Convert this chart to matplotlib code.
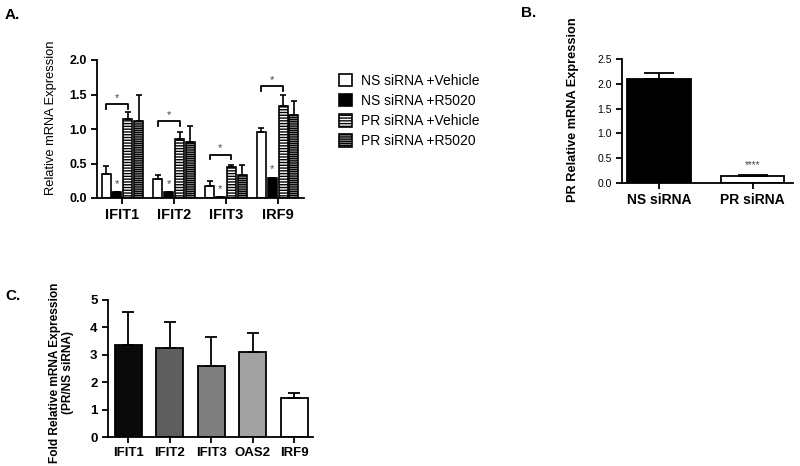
import matplotlib
matplotlib.use("Agg")
import matplotlib.pyplot as plt
import numpy as np
from matplotlib.patches import Patch

plt.rcParams['font.family'] = ['Liberation Sans', 'DejaVu Sans']
plt.rcParams['hatch.linewidth'] = 1.0

# ---------------- data ----------------
genes_a = ['IFIT1', 'IFIT2', 'IFIT3', 'IRF9']
ns_vehicle = [0.35, 0.27, 0.18, 0.95]
ns_vehicle_err = [0.12, 0.07, 0.07, 0.06]
ns_r5020 = [0.08, 0.08, 0.01, 0.29]
ns_r5020_err = [0.01, 0.005, 0.0, 0.0]
pr_vehicle = [1.15, 0.85, 0.45, 1.34]
pr_vehicle_err = [0.09, 0.11, 0.03, 0.15]
pr_r5020 = [1.11, 0.81, 0.34, 1.20]
pr_r5020_err = [0.38, 0.23, 0.14, 0.21]
bracket_y = [1.36, 1.11, 0.63, 1.62]
series_labels = ['NS siRNA +Vehicle', 'NS siRNA +R5020', 'PR siRNA +Vehicle', 'PR siRNA +R5020']

groups_b = ['NS siRNA', 'PR siRNA']
pr_expr = [2.09, 0.15]
pr_expr_err = [0.12, 0.01]

genes_c = ['IFIT1', 'IFIT2', 'IFIT3', 'OAS2', 'IRF9']
fold = [3.35, 3.24, 2.58, 3.12, 1.42]
fold_err = [1.22, 0.96, 1.06, 0.66, 0.17]
colors_c = ['#0a0a0a', '#5e5e5e', '#7f7f7f', '#a2a2a2', '#ffffff']

W, H = 800, 466
fig = plt.figure(figsize=(8, 4.66), dpi=100)

def px_axes(l, r, top, bottom):
    return fig.add_axes([l / W, (H - bottom) / H, (r - l) / W, (bottom - top) / H])

def style(ax):
    for s in ['top', 'right']:
        ax.spines[s].set_visible(False)
    for s in ['left', 'bottom']:
        ax.spines[s].set_linewidth(1.3)
    ax.tick_params(width=1.3, length=4)

# ---------------- Panel A ----------------
axA = px_axes(97, 304, 60, 198)
style(axA)
x = np.arange(len(genes_a))
w = 0.175
step = 0.21
specs = [
    (ns_vehicle, ns_vehicle_err, 'white', None),
    (ns_r5020, ns_r5020_err, 'black', None),
    (pr_vehicle, pr_vehicle_err, 'white', '------'),
    (pr_r5020, pr_r5020_err, 'white', '---------'),
]
handles = []
for i, (vals, errs, fc, hatch) in enumerate(specs):
    pos = x + (i - 1.5) * step
    axA.bar(pos, vals, w, color=fc, edgecolor='black', linewidth=1.2, hatch=hatch, zorder=2)
    axA.errorbar(pos, vals, yerr=[np.zeros(len(errs)), errs], fmt='none', ecolor='black',
                 elinewidth=1.2, capsize=2.5, capthick=1.2, zorder=3)
    handles.append(Patch(facecolor=fc, edgecolor='black', linewidth=1.2, hatch=hatch))
# stars over black bars
for xi, v in zip(x, ns_r5020):
    axA.text(xi - 0.5 * step, v + 0.05, '*', ha='center', va='bottom', fontsize=8, color='#444444')
# brackets
for xi, by in zip(x, bracket_y):
    x1 = xi - 1.5 * step
    x2 = xi + 0.5 * step
    axA.plot([x1, x1, x2, x2], [by - 0.07, by, by, by - 0.07], color='black', lw=1.3, zorder=3)
    axA.text((x1 + x2) / 2, by + 0.02, '*', ha='center', va='bottom', fontsize=8, color='#444444')
axA.set_xlim(-0.49, 3.51)
axA.set_ylim(0, 2.0)
axA.set_yticks([0, 0.5, 1.0, 1.5, 2.0])
axA.set_yticklabels(['0.0', '0.5', '1.0', '1.5', '2.0'], fontsize=9, fontweight='bold')
axA.set_xticks(x)
axA.set_xticklabels(genes_a, fontsize=10.5, fontweight='bold')
axA.set_ylabel('Relative mRNA Expression', fontsize=9.3)
axA.yaxis.set_label_coords(-0.195, 0.58)

fig.legend(handles, series_labels, loc='upper left', bbox_to_anchor=(333 / W, 1 - 68 / H),
           frameon=False, fontsize=10, handlelength=1.0, handleheight=1.0,
           handletextpad=0.6, labelspacing=0.45, borderaxespad=0)

# ---------------- Panel B ----------------
axB = px_axes(622, 793, 59, 183)
style(axB)
xb = np.arange(len(groups_b))
axB.bar(xb, pr_expr, 0.68, color=['black', 'white'], edgecolor='black', linewidth=1.3, zorder=2)
axB.errorbar(xb, pr_expr, yerr=[np.zeros(2), pr_expr_err], fmt='none', ecolor='black',
             elinewidth=1.3, capsize=11, capthick=1.3, zorder=3)
axB.text(xb[1], pr_expr[1] + 0.12, '****', ha='center', va='bottom', fontsize=7, color='#444444')
axB.set_xlim(-0.396, 1.433)
axB.set_ylim(0, 2.5)
axB.set_yticks([0, 0.5, 1.0, 1.5, 2.0, 2.5])
axB.set_yticklabels(['0.0', '0.5', '1.0', '1.5', '2.0', '2.5'], fontsize=7.5)
axB.set_xticks(xb)
axB.set_xticklabels(groups_b, fontsize=10, fontweight='bold')
axB.set_ylabel('PR Relative mRNA Expression', fontsize=9.2, fontweight='bold')
axB.yaxis.set_label_coords(-0.253, 0.59)

# ---------------- Panel C ----------------
axC = px_axes(108, 313, 300, 437)
style(axC)
xc = np.arange(len(genes_c))
axC.bar(xc, fold, 0.65, color=colors_c, edgecolor='black', linewidth=1.3, zorder=2)
axC.errorbar(xc, fold, yerr=[np.zeros(len(fold)), fold_err], fmt='none', ecolor='black',
             elinewidth=1.3, capsize=4, capthick=1.3, zorder=3)
axC.set_xlim(-0.49, 4.45)
axC.set_ylim(0, 5)
axC.set_yticks([0, 1, 2, 3, 4, 5])
axC.set_yticklabels(['0', '1', '2', '3', '4', '5'], fontsize=9.5, fontweight='bold')
axC.set_xticks(xc)
axC.set_xticklabels(genes_c, fontsize=9.5, fontweight='bold')
axC.set_ylabel('Fold Relative mRNA Expression\n(PR/NS siRNA)', fontsize=8.6, fontweight='bold',
               linespacing=1.2)
axC.yaxis.set_label_coords(-0.164, 0.47)

# panel letters
fig.text(5 / W, 1 - 15 / H, 'A.', fontsize=11, fontweight='bold', va='center', ha='left')
fig.text(521 / W, 1 - 13 / H, 'B.', fontsize=11, fontweight='bold', va='center', ha='left')
fig.text(5 / W, 1 - 296 / H, 'C.', fontsize=11, fontweight='bold', va='center', ha='left')

fig.savefig('out.png', dpi=100)
